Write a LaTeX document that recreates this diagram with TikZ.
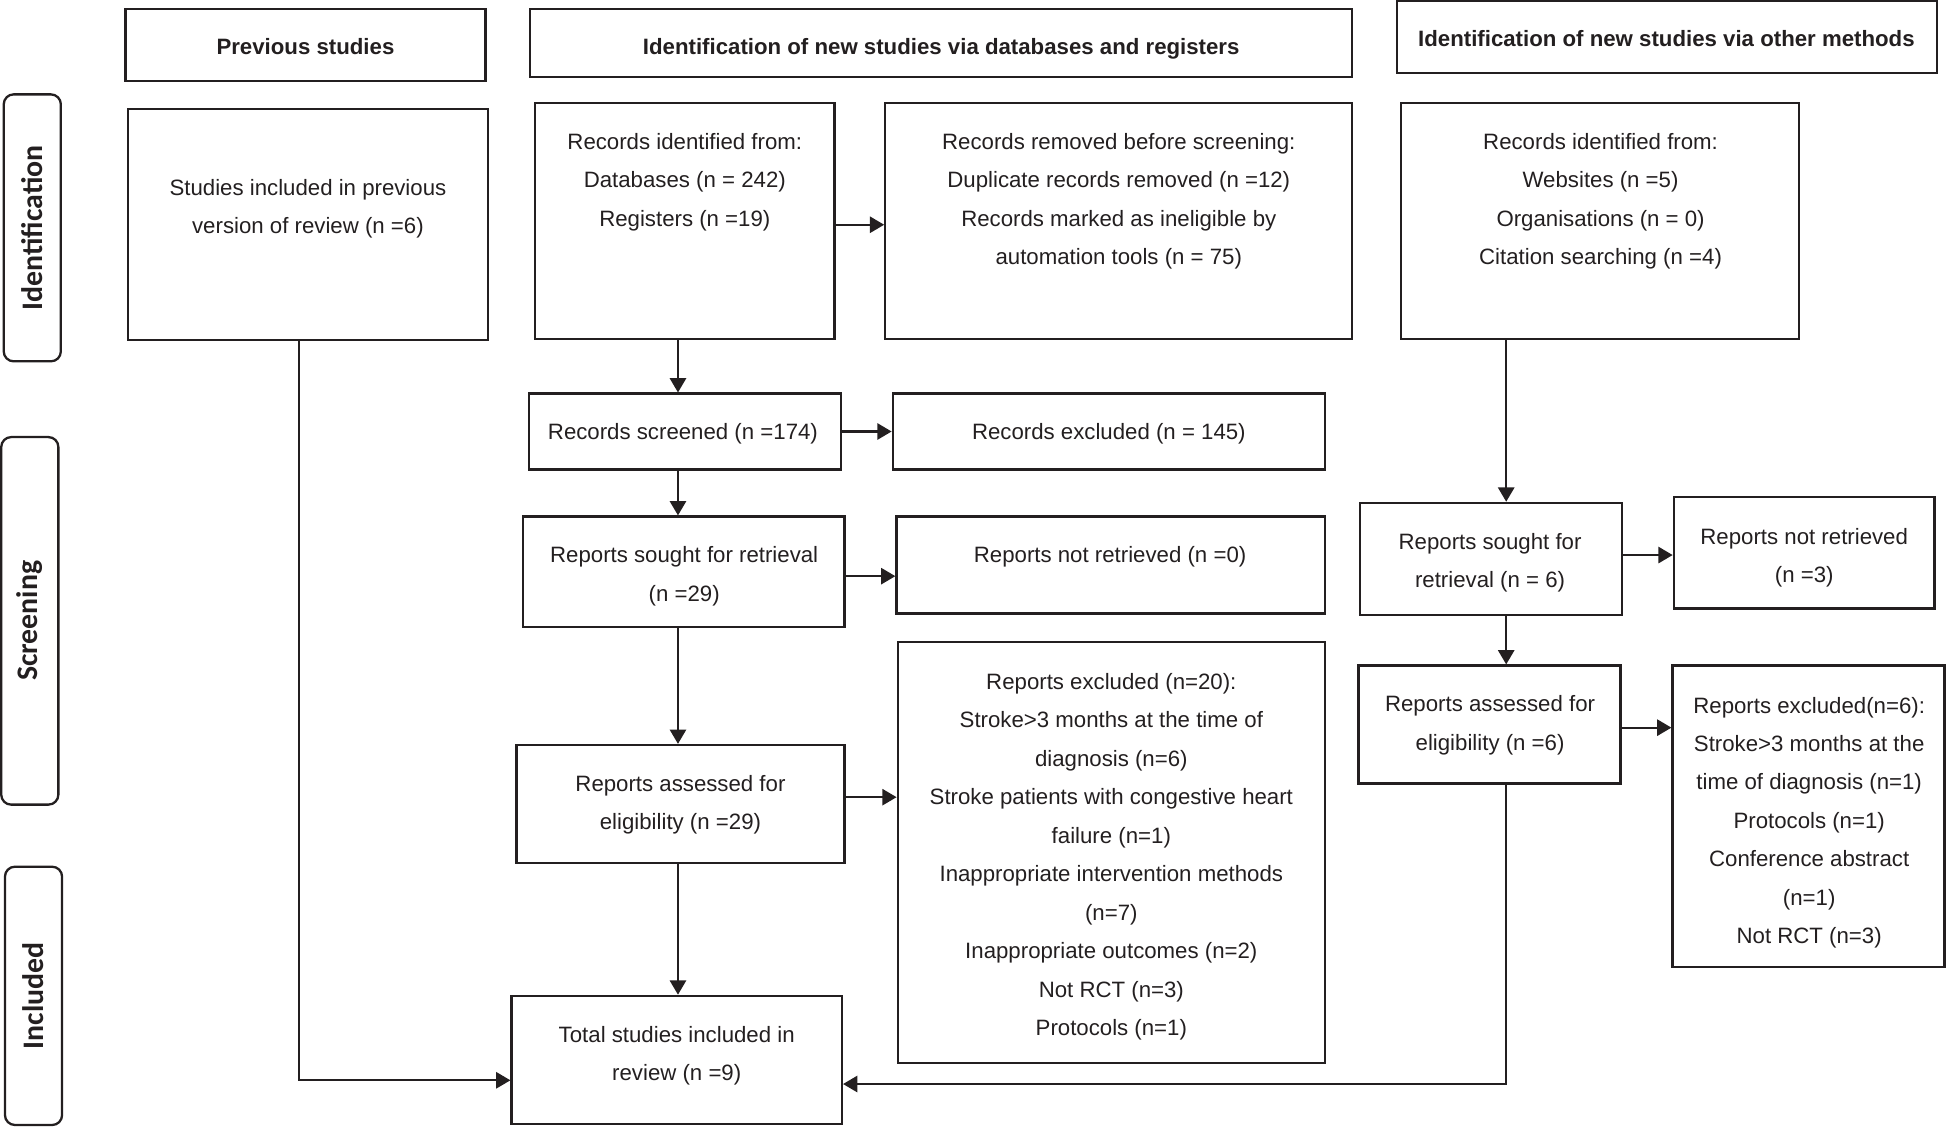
\documentclass[tikz,border=0pt]{standalone}
\usepackage{fontspec}
\setmainfont{Liberation Sans}
\newfontfamily\sidefont{Carlito}
\usetikzlibrary{arrows.meta}
\definecolor{ink}{RGB}{35,31,32}
\begin{document}
\begin{tikzpicture}[x=1pt,y=-1pt,
 box/.style={draw=ink, line width=1.85pt, rectangle, inner sep=0pt},
 txt/.style={text=ink, font=\fontsize{17.9}{31}\selectfont, align=center, inner sep=0pt},
 hdr/.style={text=ink, font=\fontsize{17.9}{31}\selectfont\bfseries, align=center, inner sep=0pt},
 side/.style={draw=ink, line width=1.85pt, rounded corners=8pt, rotate=90, inner sep=0pt, text=ink, minimum height=46pt, font=\sidefont\fontsize{24}{28}\selectfont\bfseries},
 arr/.style={draw=ink, line width=1.85pt, -{Triangle[length=11.5pt,width=13pt]}}]
\useasboundingbox (0,0) rectangle (1568,907);

% side labels
\node[side, minimum width=215pt] (sid) at (26,183.5) {Identification};
\node[side, minimum width=296pt] (sscr) at (24,500) {Screening};
\node[side, minimum width=208pt] (sinc) at (27,802) {Included};

% headers
\node[box, minimum width=290pt, minimum height=58pt] (h1) at (246,36) {};
\node[hdr] (h1t) at (246,38) {\strut Previous studies};
\node[box, minimum width=662pt, minimum height=55pt] (h2) at (758,34.5) {};
\node[hdr] (h2t) at (758,38) {\strut Identification of new studies via databases and registers};
\node[box, minimum width=435pt, minimum height=58pt] (h3) at (1342.5,30) {};
\node[hdr] (h3t) at (1342,31) {\strut Identification of new studies via other methods};

% boxes
\node[box, minimum width=290pt, minimum height=186pt] (A) at (248,181) {};
\node[txt] (At) at (248,166.5) {\strut Studies included in previous\\\strut version of review (n =6)};

\node[box, minimum width=241pt, minimum height=190pt] (B) at (551.5,178) {};
\node[txt] (Bt) at (551.5,145) {\strut Records identified from:\\\strut Databases (n = 242)\\\strut Registers (n =19)};

\node[box, minimum width=376pt, minimum height=190pt] (C) at (901,178) {};
\node[txt] (Ct) at (901,160.5) {\strut Records removed before screening:\\\strut Duplicate records removed (n =12)\\\strut Records marked as ineligible by\\\strut automation tools (n = 75)};

\node[box, minimum width=321pt, minimum height=190pt] (D) at (1288.5,178) {};
\node[txt] (Dt) at (1289,160.5) {\strut Records identified from:\\\strut Websites (n =5)\\\strut Organisations (n = 0)\\\strut Citation searching (n =4)};

\node[box, minimum width=251pt, minimum height=61pt] (E) at (551.5,347.5) {};
\node[txt] (Et) at (550,348) {\strut Records screened (n =174)};

\node[box, minimum width=348pt, minimum height=61pt] (F) at (893,347.5) {};
\node[txt] (Ft) at (893,348) {\strut Records excluded (n = 145)};

\node[box, minimum width=259pt, minimum height=89pt] (G) at (550.5,460.5) {};
\node[txt] (Gt) at (551,462.5) {\strut Reports sought for retrieval\\\strut (n =29)};

\node[box, minimum width=345pt, minimum height=78pt] (H) at (894.5,455) {};
\node[txt] (Ht) at (894,447) {\strut Reports not retrieved (n =0)};

\node[box, minimum width=211pt, minimum height=90pt] (I) at (1200.5,450) {};
\node[txt] (It) at (1200,451.5) {\strut Reports sought for\\\strut retrieval (n = 6)};

\node[box, minimum width=210pt, minimum height=90pt] (J) at (1453,445) {};
\node[txt] (Jt) at (1453,447.5) {\strut Reports not retrieved\\\strut (n =3)};

\node[box, minimum width=264pt, minimum height=95pt] (K) at (548,647.5) {};
\node[txt] (Kt) at (548,646.5) {\strut Reports assessed for\\\strut eligibility (n =29)};

\node[box, minimum width=344pt, minimum height=339pt] (L) at (895,686.5) {};
\node[txt] (Lt) at (895,688.5) {\strut Reports excluded (n=20):\\\strut Stroke>3 months at the time of\\\strut diagnosis (n=6)\\\strut Stroke patients with congestive heart\\\strut failure (n=1)\\\strut Inappropriate intervention methods\\\strut (n=7)\\\strut Inappropriate outcomes (n=2)\\\strut Not RCT (n=3)\\\strut Protocols (n=1)};

\node[box, minimum width=211pt, minimum height=95pt] (M) at (1199.5,583.5) {};
\node[txt] (Mt) at (1200,582.5) {\strut Reports assessed for\\\strut eligibility (n =6)};

\node[box, minimum width=219pt, minimum height=243pt] (N) at (1456.5,657.5) {};
\node[txt] (Nt) at (1457,661) {\strut Reports excluded(n=6):\\\strut Stroke>3 months at the\\\strut time of diagnosis (n=1)\\\strut Protocols (n=1)\\\strut Conference abstract\\\strut (n=1)\\\strut Not RCT (n=3)};

\node[box, minimum width=266pt, minimum height=103pt] (O) at (545,853.5) {};
\node[txt] (Ot) at (545,848.5) {\strut Total studies included in\\\strut review (n =9)};

% connectors
\draw[arr] ([xshift=-7pt]A.south) |- ([yshift=-16.5pt]O.west);
\draw[arr] ([xshift=-5.5pt]B.south) -- ([xshift=-5.5pt]E.north);
\draw[arr] ([yshift=-3pt]B.east) -- ([yshift=-3pt]C.west);
\draw[arr] (E.east) -- (F.west);
\draw[arr] ([xshift=-5.5pt]E.south) -- ([xshift=-5.5pt]E.south |- G.north);
\draw[arr] ([yshift=-3.5pt]G.east) -- ([yshift=-3.5pt]G.east -| H.west);
\draw[arr] ([xshift=-4.5pt]G.south) -- ([xshift=-4.5pt]G.south |- K.north);
\draw[arr] ([yshift=5.5pt]K.east) -- ([yshift=5.5pt]K.east -| L.west);
\draw[arr] ([xshift=-2pt]K.south) -- ([xshift=-2pt]K.south |- O.north);
\draw[arr] ([xshift=12.5pt]I.north |- D.south) -- ([xshift=12.5pt]I.north);
\draw[arr] ([yshift=3pt]I.east) -- ([yshift=3pt]I.east -| J.west);
\draw[arr] ([xshift=12.5pt]I.south) -- ([xshift=12.5pt]I.south |- M.north);
\draw[arr] ([yshift=-2.5pt]M.east) -- ([yshift=-2.5pt]M.east -| N.west);
\draw[arr] ([xshift=13.5pt]M.south) |- ([yshift=-19.5pt]O.east);
\end{tikzpicture}
\end{document}
